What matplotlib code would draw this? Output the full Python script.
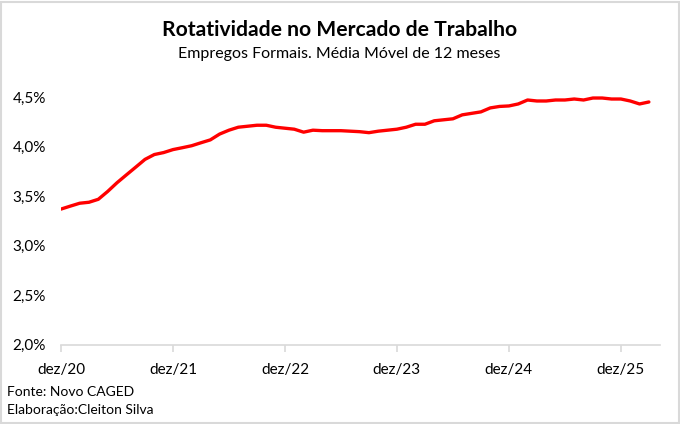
import matplotlib.pyplot as plt
from matplotlib.ticker import FuncFormatter
from matplotlib.patches import Rectangle

plt.rcParams['font.family'] = ['Lato', 'DejaVu Sans']

# Dados: rotatividade (%), média móvel 12 meses, dez/20 a mar/26
rotatividade = [3.368, 3.398, 3.427, 3.437, 3.467, 3.546, 3.634, 3.713, 3.791, 3.870,
                3.919, 3.939, 3.969, 3.988, 4.008, 4.038, 4.067, 4.126, 4.165, 4.195,
                4.205, 4.215, 4.215, 4.195, 4.185, 4.175, 4.145, 4.165, 4.16, 4.16,
                4.16, 4.155, 4.15, 4.14, 4.155, 4.165, 4.175, 4.195, 4.225, 4.225,
                4.26, 4.27, 4.28, 4.32, 4.335, 4.35, 4.39, 4.405, 4.41, 4.43,
                4.47, 4.46, 4.46, 4.47, 4.47, 4.48, 4.47, 4.49, 4.49, 4.48,
                4.48, 4.46, 4.43, 4.45]
rotulos_x = ['dez/20', 'dez/21', 'dez/22', 'dez/23', 'dez/24', 'dez/25']
ticks_y = [2.0, 2.5, 3.0, 3.5, 4.0, 4.5]

meses = list(range(len(rotatividade)))

fig = plt.figure(figsize=(6.8, 4.24), dpi=100)
ax = fig.add_axes([0.0897, 0.1875, 0.881, 0.600])

ax.plot(meses, rotatividade, color='#ff0000', linewidth=2.4, solid_capstyle='round')

ax.set_xlim(0, 64.2)
ax.set_ylim(2.0, 4.57)
ax.set_xticks([12 * i for i in range(len(rotulos_x))])
ax.set_xticklabels(rotulos_x)
ax.set_yticks(ticks_y)
ax.yaxis.set_major_formatter(FuncFormatter(lambda v, p: f'{v:.1f}%'.replace('.', ',')))

for s in ['top', 'right', 'left']:
    ax.spines[s].set_visible(False)
ax.spines['bottom'].set_color('#d9d9d9')
ax.spines['bottom'].set_linewidth(1.2)
ax.tick_params(axis='x', colors='#d9d9d9', length=5, width=1.2, labelcolor='black',
               labelsize=11, pad=8)
ax.tick_params(axis='y', length=0, labelsize=11, labelcolor='black', pad=11)

fig.text(0.499, 0.929, 'Rotatividade no Mercado de Trabalho', ha='center', va='center',
         fontsize=15.2, fontweight='bold')
fig.text(0.499, 0.873, 'Empregos Formais. Média Móvel de 12 meses', ha='center', va='center',
         fontsize=11.5)
fig.text(0.011, 0.075, 'Fonte: Novo CAGED', ha='left', va='center', fontsize=10)
fig.text(0.011, 0.032, 'Elaboração:Cleiton Silva', ha='left', va='center', fontsize=10)

# borda da área do gráfico
fig.patches.append(Rectangle((0.002, 0.002), 0.996, 0.994, transform=fig.transFigure,
                             fill=False, edgecolor='#d9d9d9', linewidth=1.5))

fig.savefig('out.png', dpi=100)
